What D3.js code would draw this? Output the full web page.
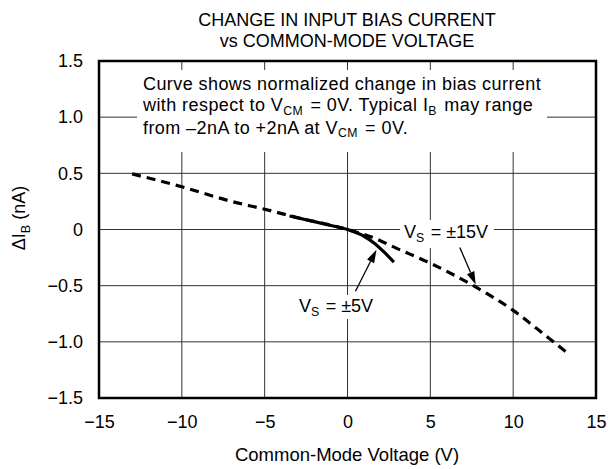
<!DOCTYPE html>
<html><head><meta charset="utf-8">
<script src="https://cdn.jsdelivr.net/npm/d3@7"></script>
<style>body{margin:0;background:#fff}svg{display:block}text{font-family:"Liberation Sans",Arial,sans-serif;fill:#000}</style>
</head><body><svg id="c" width="608" height="469"></svg>
<script>
const titleLines = ["CHANGE IN INPUT BIAS CURRENT", "vs COMMON-MODE VOLTAGE"];
const xTicks = [-15, -10, -5, 0, 5, 10, 15];
const yTicks = [-1.5, -1.0, -0.5, 0, 0.5, 1.0, 1.5];
const yTickLabels = ["\u22121.5", "\u22121.0", "\u22120.5", "0", "0.5", "1.0", "1.5"];
const xTickLabels = ["\u221215", "\u221210", "\u22125", "0", "5", "10", "15"];
// Vs = ±15V (dashed)
const v15 = [-13, -10, -7, -5, -3, 0, 1.5, 3, 5, 7.6, 10, 12, 13.2];
const i15 = [0.495, 0.38, 0.25, 0.18, 0.105, 0, -0.07, -0.17, -0.30, -0.50, -0.72, -0.95, -1.09];
// Vs = ±5V (solid)
const v5 = [-3.5, -2, -1, 0, 1, 1.6, 2.2, 2.8];
const i5 = [0.12, 0.07, 0.035, 0, -0.06, -0.12, -0.2, -0.29];

const svg = d3.select("#c");
const x = d3.scaleLinear().domain([-15, 15]).range([99, 596]);
const y = d3.scaleLinear().domain([-1.5, 1.5]).range([398, 61]);
const FF = "Liberation Sans, Arial, sans-serif";

// grid
const g = svg.append("g");
g.selectAll(".vg").data(xTicks.slice(1, -1)).enter().append("line")
  .attr("x1", d => x(d)).attr("x2", d => x(d)).attr("y1", y(1.5)).attr("y2", y(-1.5))
  .attr("stroke", "#333").attr("stroke-width", 1);
g.selectAll(".hg").data(yTicks.slice(1, -1)).enter().append("line")
  .attr("y1", d => y(d)).attr("y2", d => y(d)).attr("x1", x(-15)).attr("x2", x(15))
  .attr("stroke", "#333").attr("stroke-width", 1);

// tick labels via axes
const xAxis = svg.append("g").attr("transform", `translate(0,${y(-1.5)})`)
  .call(d3.axisBottom(x).tickValues(xTicks).tickSize(0).tickPadding(17).tickFormat((d, i) => xTickLabels[i]));
const yAxis = svg.append("g").attr("transform", `translate(${x(-15)},0)`)
  .call(d3.axisLeft(y).tickValues(yTicks).tickSize(0).tickPadding(16).tickFormat((d, i) => yTickLabels[i]));
[xAxis, yAxis].forEach(a => { a.select(".domain").remove(); a.selectAll("text").attr("font-size", 18).attr("font-family", FF).attr("fill", "#000"); });

function richText(xx, yy, parts, size, ls) {
  const t = svg.append("text").attr("x", xx).attr("y", yy).attr("font-size", size).attr("letter-spacing", ls || 0);
  parts.forEach(p => {
    if (typeof p === "string") t.append("tspan").text(p);
    else { t.append("tspan").attr("dy", 3.5).attr("font-size", size * 0.68).text(p.sub);
           t.append("tspan").attr("dy", -3.5).text("\u200a"); }
  });
  return t;
}

// annotation box
svg.append("rect").attr("x", 137).attr("y", 70).attr("width", 410).attr("height", 82).attr("fill", "#fff");
richText(143, 90, ["Curve shows normalized change in bias current"], 18, 0.42);
richText(143, 111, ["with respect to V", {sub: "CM"}, " = 0V. Typical I", {sub: "B"}, " may range"], 18, 0.42);
richText(143, 133.5, ["from \u20132nA to +2nA at V", {sub: "CM"}, " = 0V."], 18, 0.42);

// curves
const lineGen = d3.line().x(d => x(d[0])).y(d => y(d[1])).curve(d3.curveMonotoneX);
svg.append("path").datum(v15.map((v, i) => [v, i15[i]])).attr("d", lineGen)
  .attr("fill", "none").attr("stroke", "#000").attr("stroke-width", 3.2).attr("stroke-dasharray", "9,6");
svg.append("path").datum(v5.map((v, i) => [v, i5[i]])).attr("d", lineGen)
  .attr("fill", "none").attr("stroke", "#000").attr("stroke-width", 3.2);

// labels with white background
svg.append("rect").attr("x", 400).attr("y", 220).attr("width", 94).attr("height", 28).attr("fill", "#fff");
richText(404, 238, ["V", {sub: "S"}, " = \u00b115V"], 18);
svg.append("rect").attr("x", 295).attr("y", 295).attr("width", 86).attr("height", 24).attr("fill", "#fff");
richText(299, 312, ["V", {sub: "S"}, " = \u00b15V"], 18);

// arrows
const arrows = [
  {from: [0.48, -0.55], to: [1.75, -0.18]},
  {from: [6.78, -0.16], to: [7.74, -0.49]}
];
arrows.forEach(a => {
  const x1 = x(a.from[0]), y1 = y(a.from[1]), x2 = x(a.to[0]), y2 = y(a.to[1]);
  const ang = Math.atan2(y2 - y1, x2 - x1), L = 13, W = 4;
  const bx = x2 - L * Math.cos(ang), by = y2 - L * Math.sin(ang);
  svg.append("line").attr("x1", x1).attr("y1", y1).attr("x2", bx).attr("y2", by).attr("stroke", "#000").attr("stroke-width", 1.3);
  svg.append("path").attr("d", `M${x2},${y2}L${bx - W * Math.sin(ang)},${by + W * Math.cos(ang)}L${bx + W * Math.sin(ang)},${by - W * Math.cos(ang)}Z`).attr("fill", "#000");
});

// frame
svg.append("rect").attr("x", x(-15)).attr("y", y(1.5)).attr("width", x(15) - x(-15)).attr("height", y(-1.5) - y(1.5))
  .attr("fill", "none").attr("stroke", "#000").attr("stroke-width", 2.5);

// titles
svg.append("text").attr("x", 347).attr("y", 26).attr("text-anchor", "middle").attr("font-size", 18).text(titleLines[0]);
svg.append("text").attr("x", 347).attr("y", 47).attr("text-anchor", "middle").attr("font-size", 18).text(titleLines[1]);
svg.append("text").attr("x", 347).attr("y", 461).attr("text-anchor", "middle").attr("font-size", 18.5).text("Common-Mode Voltage (V)");
const yl = svg.append("text").attr("transform", "translate(25,218) rotate(-90)").attr("text-anchor", "middle").attr("font-size", 18);
yl.append("tspan").text("\u0394I");
yl.append("tspan").attr("dy", 4.5).attr("font-size", 12.5).text("B");
yl.append("tspan").attr("dy", -4.5).text(" (nA)");
</script></body></html>
